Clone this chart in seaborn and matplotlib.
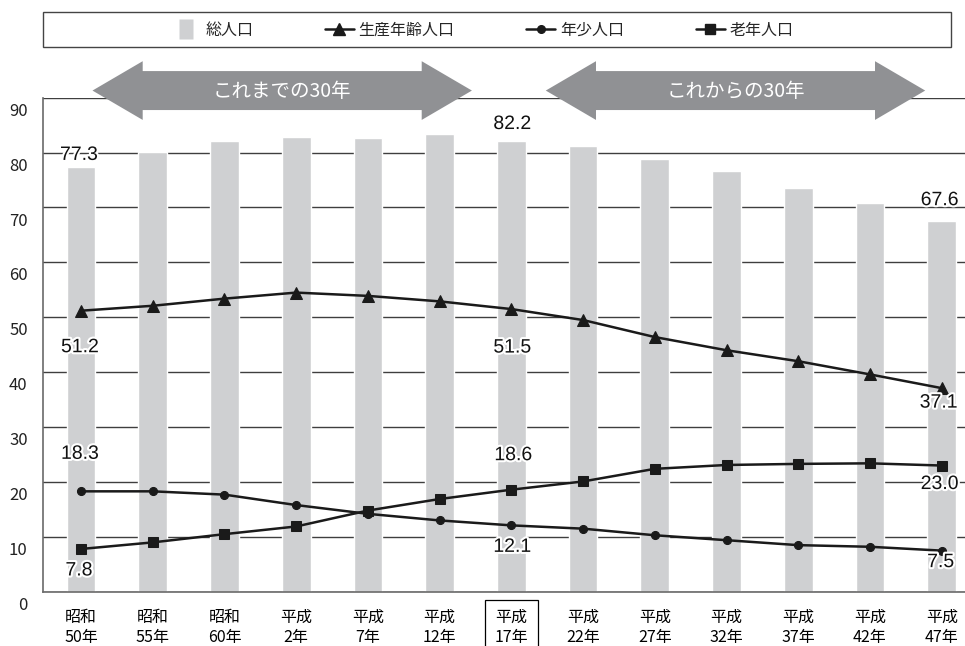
import matplotlib
matplotlib.use("Agg")
import numpy as np
import pandas as pd
import matplotlib.pyplot as plt
import matplotlib.transforms as mtransforms
import matplotlib.patheffects as pe
from matplotlib.patches import Polygon, Rectangle
from matplotlib.lines import Line2D
import seaborn as sns

# datos
periodos = ["昭和\n50年", "昭和\n55年", "昭和\n60年", "平成\n2年", "平成\n7年", "平成\n12年",
            "平成\n17年", "平成\n22年", "平成\n27年", "平成\n32年", "平成\n37年", "平成\n42年", "平成\n47年"]
total = [77.3, 80.2, 82.2, 82.8, 82.7, 83.4, 82.2, 81.2, 78.9, 76.6, 73.6, 70.9, 67.6]
seisan = [51.2, 52.1, 53.4, 54.5, 53.9, 52.9, 51.5, 49.5, 46.4, 44.0, 42.0, 39.6, 37.1]
nensho = [18.3, 18.3, 17.7, 15.8, 14.2, 13.0, 12.1, 11.5, 10.3, 9.4, 8.5, 8.2, 7.5]
ronen = [7.8, 9.0, 10.5, 11.9, 14.8, 16.9, 18.6, 20.1, 22.4, 23.1, 23.3, 23.4, 23.0]

nombres = ["総人口", "生産年齢人口", "年少人口", "老年人口"]
flechas = [("これまでの30年", 0.16, 5.45), ("これからの30年", 6.48, 11.77)]
periodo_marcado = 6  # 平成17年

df = pd.DataFrame({"periodo": periodos, "total": total, "seisan": seisan,
                   "nensho": nensho, "ronen": ronen})
df["pos"] = np.arange(len(df))

sns.set_theme(style="white")
plt.rcParams["font.family"] = ["Noto Sans CJK JP", "DejaVu Sans"]

GRIS_BARRA = "#cfd0d2"
NEGRO = "#1a1a1a"

fig = plt.figure(figsize=(9.65, 6.46), dpi=100)
ax = fig.add_axes([43 / 965, 54.2 / 646, 936 / 965, 494.1 / 646])

sns.barplot(data=df, x="periodo", y="total", color=GRIS_BARRA, width=0.4,
            saturation=1, ax=ax, zorder=2)

estilos = [("seisan", "^", 9), ("nensho", "o", 5.8), ("ronen", "s", 7)]
for col, marcador, tam in estilos:
    sns.lineplot(data=df, x="pos", y=col, ax=ax, color=NEGRO, lw=1.8,
                 marker=marcador, markersize=tam, markeredgecolor=NEGRO,
                 markerfacecolor=NEGRO, legend=False, zorder=4, sort=False)

ax.set_xlim(-0.53, 12.52)
ax.set_ylim(0, 90)
ax.set_yticks(range(0, 91, 10))
ax.set_xlabel("")
ax.set_ylabel("")
ax.set_axisbelow(True)
ax.yaxis.grid(True, color="#3f3f3f", lw=1.0)
ax.spines["right"].set_visible(False)
ax.spines["top"].set_visible(False)
for s in ["left", "bottom"]:
    ax.spines[s].set_color("#6a6a6a")
    ax.spines[s].set_linewidth(1.2)

ax.tick_params(axis="y", length=0, pad=11, labelsize=12, labelcolor="#222222")
ax.tick_params(axis="x", length=0, pad=12.5, labelsize=11.5, labelcolor="black")
for t in ax.get_xticklabels():
    t.set_linespacing(1.25)
ax.get_xticklabels()[periodo_marcado].set_bbox(
    dict(boxstyle="square,pad=0.6", fc="none", ec="black", lw=0.9))

# etiquetas del eje y un poco más abajo, como en el original
bajar = mtransforms.ScaledTranslation(0, -11.5 / 100, fig.dpi_scale_trans)
for t in ax.get_yticklabels():
    t.set_transform(t.get_transform() + bajar)

# flechas dobles
def flecha_doble(x0, x1, y, texto):
    cab, alto_cab, alto_eje = 0.70, 10.7, 7.1
    v = [(x0, y), (x0 + cab, y + alto_cab / 2), (x0 + cab, y + alto_eje / 2),
         (x1 - cab, y + alto_eje / 2), (x1 - cab, y + alto_cab / 2), (x1, y),
         (x1 - cab, y - alto_cab / 2), (x1 - cab, y - alto_eje / 2),
         (x0 + cab, y - alto_eje / 2), (x0 + cab, y - alto_cab / 2)]
    ax.add_patch(Polygon(v, closed=True, fc="#909194", ec="none",
                         clip_on=False, zorder=5))
    ax.text((x0 + x1) / 2, y - 0.2, texto, color="white", ha="center",
            va="center", fontsize=14, zorder=6)

for texto, x0, x1 in flechas:
    flecha_doble(x0, x1, 91.3, texto)

# valores etiquetados (serie, índice, dx px, dy px)
etiquetas = [("total", 0, -2, 12), ("total", 6, 1, 16), ("total", 12, -2, 20),
             ("seisan", 0, -1, -37), ("seisan", 6, 1, -39), ("seisan", 12, -3, -15),
             ("nensho", 0, -1, 37), ("ronen", 6, 2, 34), ("ronen", 12, -2, -19),
             ("ronen", 0, -2, -22), ("nensho", 6, 1, -22), ("nensho", 12, -1, -12)]
halo = [pe.withStroke(linewidth=3, foreground="white")]
for col, i, dx, dy in etiquetas:
    val = df[col].iloc[i]
    ax.annotate(f"{val:.1f}", (df["pos"].iloc[i], val), xytext=(dx, dy),
                textcoords="offset pixels", ha="center", va="center",
                fontsize=14, family="Liberation Sans", color="#111111",
                path_effects=halo, zorder=7, annotation_clip=False)

# leyenda
rect = [(-0.32, -0.5), (0.32, -0.5), (0.32, 0.5), (-0.32, 0.5)]
manejadores = [Line2D([], [], lw=0, marker=rect, markersize=15,
                      markerfacecolor=GRIS_BARRA, markeredgecolor="none"),
               Line2D([], [], color=NEGRO, lw=1.8, marker="^", markersize=8),
               Line2D([], [], color=NEGRO, lw=1.8, marker="o", markersize=5.5),
               Line2D([], [], color=NEGRO, lw=1.8, marker="s", markersize=6.5)]
fig.legend(manejadores, nombres, loc="center", bbox_to_anchor=(0.5, 1 - 30 / 646),
           ncol=4, frameon=False, fontsize=11.5, handlelength=1.8,
           handletextpad=0.3, columnspacing=4.5)
fig.add_artist(Rectangle((43 / 965, 1 - 47 / 646), 908 / 965, 35 / 646,
                         transform=fig.transFigure, fill=False,
                         ec="#444444", lw=1.0))

fig.savefig("out.png", dpi=100)
